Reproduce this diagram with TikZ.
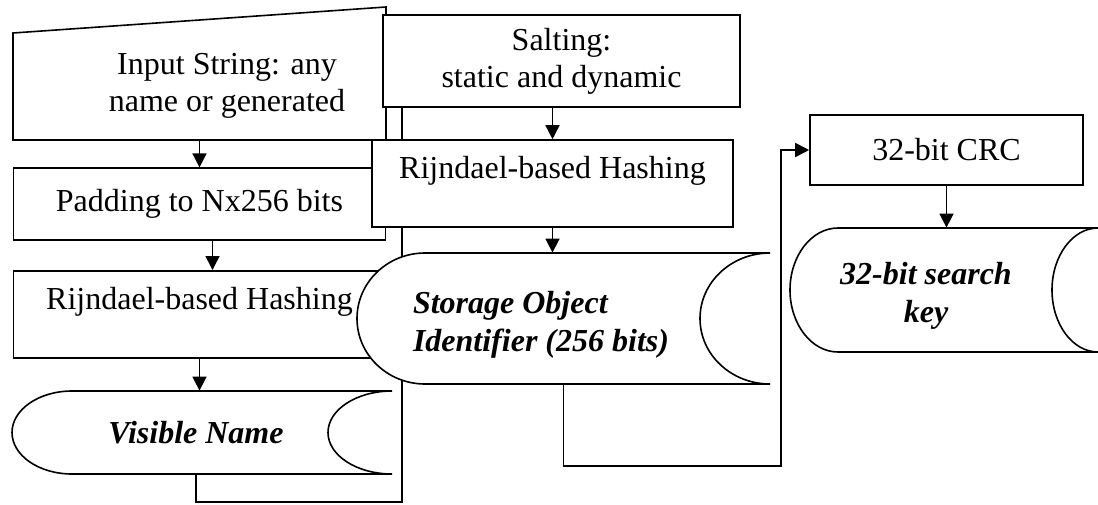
\documentclass[tikz,border=0pt]{standalone}
\usepackage{fontspec}
\setmainfont{Liberation Serif}
\usetikzlibrary{arrows.meta, positioning}

\tikzset{
  box/.style={draw, fill=white, line width=0.8pt, align=center, inner sep=0pt},
  storeline/.style={draw, fill=white, line width=0.8pt},
  storetext/.style={align=center, inner sep=0pt, font=\fontsize{16}{19}\selectfont\bfseries\itshape},
  toptext/.style={text depth=16pt},
  conn/.style={line width=0.8pt},
  arr/.style={line width=0.8pt, -{Triangle[length=7pt,width=7pt]}}
}

\begin{document}
\begin{tikzpicture}[x=0.5pt, y=-0.5pt, font=\fontsize{16}{18.5}\selectfont]
\useasboundingbox (0,0) rectangle (1098,504);

% manual input
\draw[conn, fill=white] (13,33) -- (386,7) -- (386,140) -- (13,140) -- cycle;
\node[minimum width=186.5pt, minimum height=66.5pt,
  label={[align=center, xshift=13.75pt, yshift=-6pt]center:{Input String: any\\name or generated}}] (input) at (199.5,73.5) {};
\node[box, minimum width=178.5pt, minimum height=46pt] (salting) at (561.5,61) {Salting:\\static and dynamic};

% visible name
\draw[storeline] (72,391) .. controls (38.9,391) and (12,409.6) .. (12,432.5)
  .. controls (12,455.4) and (38.9,474) .. (72,474) -- (392,474)
  .. controls (356.7,474) and (328,455.4) .. (328,432.5)
  .. controls (328,409.6) and (356.7,391) .. (392,391) -- cycle;
\node[storetext, minimum width=184pt, minimum height=41.5pt] (visible) at (196,432.5) {Visible Name};

% back to salting, runs behind the boxes
\coordinate (saltin) at (402,502);
\draw[conn] (visible.south) |- (saltin) -- (saltin |- salting.south);

\node[box, minimum width=186pt, minimum height=36pt, below=13.5pt of input] (padding) {Padding to Nx256 bits};
\node[box, toptext, minimum width=186pt, minimum height=43.5pt, below=14.5pt of padding] (hash1) {Rijndael-based Hashing};
\node[box, toptext, minimum width=180.5pt, minimum height=43.5pt] (hash2) at (552.5,183.5) {Rijndael-based Hashing};

% storage object identifier
\draw[storeline] (425,253) .. controls (387.5,253) and (357,282.3) .. (357,318.5)
  .. controls (357,354.7) and (387.5,384) .. (425,384) -- (770,384)
  .. controls (731.3,384) and (700,354.7) .. (700,318.5)
  .. controls (700,282.3) and (731.3,253) .. (770,253) -- cycle;
\node[minimum width=206.5pt, minimum height=65.5pt,
  label={[storetext, align=flush left, text width=150.5pt, yshift=-3pt]center:{Storage Object\\Identifier (256 bits)}}] (storage) at (563.5,318.5) {};

\node[box, minimum width=136.5pt, minimum height=35pt] (crc) at (946.5,150) {32-bit CRC};

% search key
\draw[storeline] (838,228) .. controls (811.5,228) and (790,255.8) .. (790,290)
  .. controls (790,324.2) and (811.5,352) .. (838,352) -- (1098,352)
  .. controls (1072.6,352) and (1052,324.2) .. (1052,290)
  .. controls (1052,255.8) and (1072.6,228) .. (1098,228) -- cycle;
\node[minimum width=136pt, minimum height=62pt,
  label={[storetext, yshift=-3pt]center:{32-bit search\\key}}] (key) at (926,290) {};

\draw[arr] (input.south) -- (input.south |- padding.north);
\draw[arr] ([xshift=6.5pt]padding.south) -- ([xshift=6.5pt]hash1.north);
\draw[arr] (hash1.south) -- (hash1.south |- visible.north);
\draw[arr] (hash2.north |- salting.south) -- (hash2.north);
\draw[arr] (hash2.south) -- (hash2.south |- storage.north);
\coordinate (crcin) at (781,466);
\draw[arr] (storage.south) |- (crcin) |- (crc.west);
\draw[arr] (crc.south) -- (crc.south |- key.north);
\end{tikzpicture}
\end{document}
